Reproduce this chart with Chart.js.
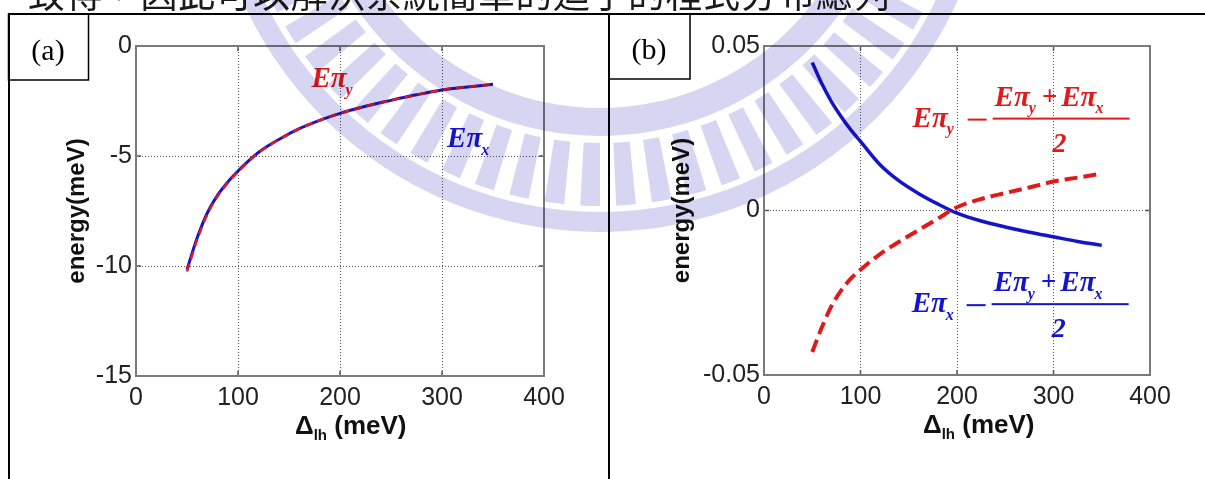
<!DOCTYPE html>
<html>
<head>
<meta charset="utf-8">
<script src="https://cdn.jsdelivr.net/npm/chart.js@4.4.1/dist/chart.umd.min.js"></script>
<style>
  html, body { margin: 0; padding: 0; background: #fff; }
  body { width: 1205px; height: 479px; position: relative; overflow: hidden; }
  canvas { position: absolute; }
  #deco { left: 0; top: 0; z-index: 0; }
  #chartA { left: 0; top: 16px; z-index: 1; }
  #chartB { left: 609px; top: 16px; z-index: 1; }
  #mark { left: 0; top: 0; z-index: 2; mix-blend-mode: multiply; pointer-events: none; opacity: 0.7; }
</style>
</head>
<body>
<canvas id="deco" width="1205" height="479"></canvas>
<canvas id="chartA" width="605" height="463"></canvas>
<canvas id="chartB" width="596" height="463"></canvas>
<canvas id="mark" width="1205" height="479"></canvas>
<script>
// data
const deltaLH = [50, 60, 70, 80, 90, 100, 120, 140, 160, 180, 200, 225, 250, 275, 300, 325, 350];

// (a) energies (meV)
const aEpiY = [-10.25, -8.80, -7.64, -6.83, -6.22, -5.72, -4.86, -4.26, -3.77, -3.38, -3.06, -2.74, -2.47, -2.22, -2.00, -1.86, -1.74];
const aEpiX = [-10.16, -8.72, -7.58, -6.78, -6.18, -5.68, -4.84, -4.25, -3.76, -3.38, -3.06, -2.74, -2.47, -2.22, -2.00, -1.86, -1.74];

// (b) difference from the mean (meV)
const bDiffY = [-0.0430, -0.0355, -0.0290, -0.0243, -0.0207, -0.0180, -0.0133, -0.0095, -0.0060, -0.0025, 0.0010, 0.0035, 0.0053, 0.0070, 0.0088, 0.0100, 0.0112];
const bDiffX = [0.0450, 0.0385, 0.0330, 0.0285, 0.0245, 0.0210, 0.0140, 0.0090, 0.0052, 0.0020, -0.0008, -0.0032, -0.0050, -0.0066, -0.0080, -0.0094, -0.0106];

const xTicks = [0, 100, 200, 300, 400];
const xTickLabels = ['0', '100', '200', '300', '400'];
const aYTicks = [-15, -10, -5, 0];
const aYTickLabels = ['-15', '-10', '-5', '0'];
const bYTicks = [-0.05, 0, 0.05];
const bYTickLabels = ['-0.05', '0', '0.05'];

const topLine = '致得，因此可以解決系統簡單的迴子的程式分布總列';

const RED = '#e01a1a';
const BLUE = '#1414c8';
const SANS = '"Liberation Sans", Arial, sans-serif';
const SERIF = '"Liberation Serif", "Times New Roman", serif';

function pts(xs, ys) {
  return xs.map((x, i) => ({ x: x, y: ys[i] }));
}

// "Eπ" with a subscript, bold italic serif
function drawEpi(ctx, x, base, sub, size, color) {
  ctx.fillStyle = color;
  ctx.textAlign = 'left';
  ctx.textBaseline = 'alphabetic';
  ctx.font = 'italic bold ' + size + 'px ' + SERIF;
  ctx.fillText('Eπ', x, base);
  let w = ctx.measureText('Eπ').width;
  ctx.font = 'italic bold ' + Math.round(size * 0.55) + 'px ' + SERIF;
  ctx.fillText(sub, x + w - 1, base + size * 0.27);
  return x + w - 1 + ctx.measureText(sub).width;
}

function drawFormula(ctx, x0, b0, main, color) {
  let s = 29;
  drawEpi(ctx, x0, b0, main, s, color);
  ctx.fillStyle = color;
  ctx.fillRect(x0 + 55, b0 - 8, 19, 2);           // minus
  ctx.fillRect(x0 + 80, b0 - 9, 137, 2);          // fraction bar
  let e = drawEpi(ctx, x0 + 82, b0 - 21, 'y', s, color);
  ctx.font = 'bold ' + 27 + 'px ' + SERIF;
  ctx.fillText('+', e + 6, b0 - 22);
  e = e + 6 + ctx.measureText('+').width + 4;
  drawEpi(ctx, e, b0 - 21, 'x', s, color);
  ctx.font = 'italic bold 28px ' + SERIF;
  ctx.textAlign = 'center';
  ctx.fillText('2', x0 + 147, b0 + 25);
  ctx.textAlign = 'left';
}

// box, inner tick marks, x title and the curve labels
const panelDeco = {
  id: 'panelDeco',
  afterDraw(chart, args, opts) {
    const ctx = chart.ctx;
    const a = chart.chartArea;
    const sx = chart.scales.x, sy = chart.scales.y;
    ctx.save();
    ctx.strokeStyle = '#555';
    ctx.lineWidth = 1.5;
    ctx.beginPath();
    sx.ticks.forEach(t => {
      const px = sx.getPixelForValue(t.value);
      ctx.moveTo(px, a.bottom); ctx.lineTo(px, a.bottom - 5);
      ctx.moveTo(px, a.top); ctx.lineTo(px, a.top + 5);
    });
    sy.ticks.forEach(t => {
      const py = sy.getPixelForValue(t.value);
      ctx.moveTo(a.left, py); ctx.lineTo(a.left + 5, py);
      ctx.moveTo(a.right, py); ctx.lineTo(a.right - 5, py);
    });
    ctx.stroke();
    ctx.strokeStyle = '#7a7a7a';
    ctx.lineWidth = 2;
    ctx.strokeRect(a.left, a.top, a.right - a.left, a.bottom - a.top);

    // x title: Δlh (meV)
    ctx.fillStyle = '#111';
    ctx.textBaseline = 'alphabetic';
    ctx.textAlign = 'left';
    let tx = a.left + 159, ty = a.bottom + 58;
    ctx.font = 'bold 26px ' + SANS;
    ctx.fillText('Δ', tx, ty);
    tx += ctx.measureText('Δ').width;
    ctx.font = 'bold 15px ' + SANS;
    ctx.fillText('lh', tx, ty + 6);
    tx += ctx.measureText('lh').width;
    ctx.font = 'bold 26px ' + SANS;
    ctx.fillText(' (meV)', tx, ty);

    (opts.labels || []).forEach(l => {
      const px = sx.getPixelForValue(l.x), py = sy.getPixelForValue(l.y);
      if (l.formula) drawFormula(ctx, px, py, l.sub, l.color);
      else drawEpi(ctx, px, py, l.sub, 29, l.color);
    });
    ctx.restore();
  }
};

function makeChart(id, cfg) {
  const yTickVals = cfg.yTicks, yTickText = cfg.yLabels;
  return new Chart(document.getElementById(id), {
    type: 'line',
    data: {
      datasets: [
        {
          label: 'Eπx',
          data: pts(deltaLH, cfg.blue),
          borderColor: BLUE,
          borderWidth: cfg.blueWidth,
          pointRadius: 0,
          fill: false,
          order: 2,
          cubicInterpolationMode: 'monotone'
        },
        {
          label: 'Eπy',
          data: pts(deltaLH, cfg.red),
          borderColor: RED,
          borderWidth: cfg.redWidth,
          borderDash: cfg.dash,
          pointRadius: 0,
          fill: false,
          order: 1,
          cubicInterpolationMode: 'monotone'
        }
      ]
    },
    options: {
      responsive: false,
      animation: false,
      devicePixelRatio: 1,
      layout: { padding: cfg.padding },
      plugins: {
        legend: { display: false },
        tooltip: { enabled: false },
        panelDeco: { labels: cfg.labels }
      },
      scales: {
        x: {
          type: 'linear',
          min: 0,
          max: 400,
          afterBuildTicks: s => { s.ticks = xTicks.map(v => ({ value: v })); },
          afterFit: s => { s.height = 60; },
          grid: { color: '#555', lineWidth: 1, drawTicks: false },
          border: { display: false, dash: [1, 2] },
          ticks: {
            padding: 7,
            color: '#222',
            autoSkip: false,
            maxRotation: 0,
            font: { family: SANS, size: 25 },
            callback: (v, i) => xTickLabels[i]
          }
        },
        y: {
          type: 'linear',
          min: cfg.yMin,
          max: cfg.yMax,
          afterBuildTicks: s => { s.ticks = yTickVals.map(v => ({ value: v })); },
          afterFit: s => { s.width = cfg.yWidth; },
          grid: { color: '#555', lineWidth: 1, drawTicks: false },
          border: { display: false, dash: [1, 2] },
          ticks: {
            padding: 4,
            color: '#222',
            autoSkip: false,
            font: { family: SANS, size: 25 },
            callback: (v, i) => yTickText[i]
          },
          title: {
            display: true,
            text: 'energy(meV)',
            color: '#111',
            font: { family: SANS, size: 24, weight: 'bold' },
            padding: { top: cfg.titlePad, bottom: 0 }
          }
        }
      }
    },
    plugins: [panelDeco]
  });
}

makeChart('chartA', {
  blue: aEpiX, red: aEpiY,
  blueWidth: 3, redWidth: 2.5, dash: [8, 5],
  yMin: -15, yMax: 0, yTicks: aYTicks, yLabels: aYTickLabels,
  yWidth: 136, titlePad: 63,
  padding: { left: 0, top: 30, right: 61, bottom: 43 },
  labels: [
    { x: 172, y: -1.86, sub: 'y', color: RED },
    { x: 305, y: -4.59, sub: 'x', color: BLUE }
  ]
});

makeChart('chartB', {
  blue: bDiffX, red: bDiffY,
  blueWidth: 3.5, redWidth: 4, dash: [13, 6],
  yMin: -0.05, yMax: 0.05, yTicks: bYTicks, yLabels: bYTickLabels,
  yWidth: 155, titlePad: 59,
  padding: { left: 0, top: 30, right: 55, bottom: 44 },
  labels: [
    { x: 154, y: 0.0255, sub: 'y', color: RED, formula: true },
    { x: 153, y: -0.0309, sub: 'x', color: BLUE, formula: true }
  ]
});

// page frame: clipped text line, table borders, (a)/(b) boxes
(function () {
  const ctx = document.getElementById('deco').getContext('2d');
  ctx.fillStyle = '#1a1a1a';
  ctx.font = '37px "Noto Sans CJK TC", sans-serif';
  ctx.textBaseline = 'alphabetic';
  let x = 28;
  for (const ch of topLine) { ctx.fillText(ch, x, 8); x += 37.5; }

  ctx.fillStyle = '#000';
  ctx.fillRect(8, 13, 1197, 2);     // top rule
  ctx.fillRect(8, 13, 2, 466);      // left rule
  ctx.fillRect(608, 13, 2, 466);    // middle rule
  ctx.lineWidth = 1.5;
  ctx.strokeStyle = '#000';
  ctx.strokeRect(8.5, 14, 80, 66);
  ctx.strokeRect(609, 14, 81, 65);
  ctx.font = '30px ' + SERIF;
  ctx.textAlign = 'center';
  ctx.fillText('(a)', 48, 60);
  ctx.fillText('(b)', 649, 59);
})();

// faint emblem watermark behind the upper part of the page
(function () {
  const ctx = document.getElementById('mark').getContext('2d');
  const cx = 600, cy = -160;
  ctx.fillStyle = 'rgb(196,196,236)';
  function ring(r0, r1) {
    ctx.beginPath();
    ctx.arc(cx, cy, r1, 0, Math.PI * 2);
    ctx.arc(cx, cy, r0, Math.PI * 2, 0, true);
    ctx.fill();
  }
  ring(268, 296);
  ring(372, 392);
  const n = 64;
  for (let k = 0; k < n; k++) {
    const a0 = (k / n) * Math.PI * 2, a1 = a0 + (Math.PI * 2 / n) * 0.55;
    ctx.beginPath();
    ctx.arc(cx, cy, 366, a0, a1);
    ctx.arc(cx, cy, 303, a1, a0, true);
    ctx.closePath();
    ctx.fill();
  }
})();
</script>
</body>
</html>
